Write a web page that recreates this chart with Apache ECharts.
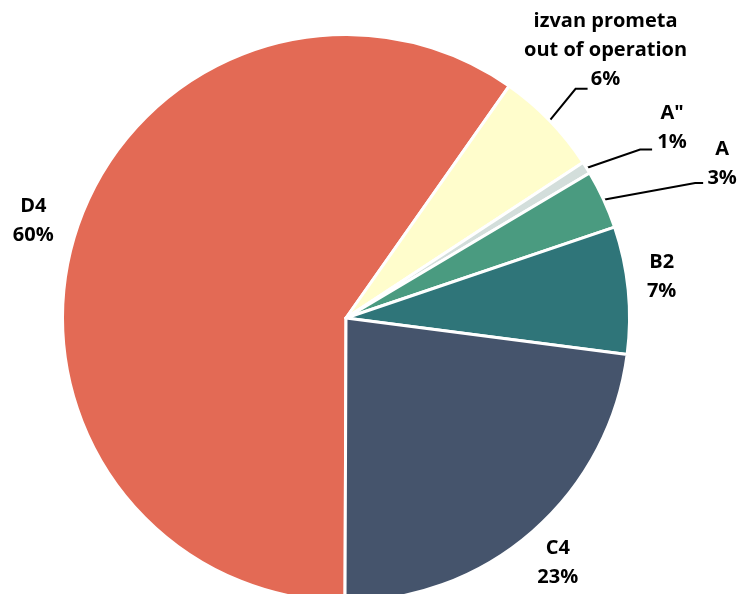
<!DOCTYPE html>
<html>
<head>
<meta charset="utf-8">
<script src="https://cdn.jsdelivr.net/npm/echarts@6/dist/echarts.min.js"></script>
<style>
html,body{margin:0;padding:0;background:#ffffff;}
#chart{width:740px;height:594px;}
</style>
</head>
<body>
<div id="chart"></div>
<script>
// ---- data ----
const categories = ['D4', 'izvan prometa\nout of operation', 'A"', 'A', 'B2', 'C4'];
const values = [59.7, 6.0, 0.7, 3.35, 7.25, 23.0];
const colors = ['#E36A55', '#FFFDCC', '#D3DEDB', '#4A9B80', '#2F7579', '#45546C'];

// ---- label styling (offsets in px) ----
const showLine = [false, true, true, true, false, false];
const lineElbow = [null, [27, -33], [55, -19], [93, -17], null, null];
const lineTail = [0, 12, 12, 8, 0, 0];
const labelShift = [[-44, -12], [18, -39], [20, -22], [19, -19], [35, -13], [26, 33]];

const CX = 346, CY = 318, R = 282, START = 269.8;

const total = values.reduce((a, b) => a + b, 0);
let acc = 0;
const mids = values.map(v => {
  const a0 = START - acc / total * 360;
  acc += v;
  const a1 = START - acc / total * 360;
  return (a0 + a1) / 2 * Math.PI / 180;
});

const chart = echarts.init(document.getElementById('chart'), null, {renderer: 'canvas'});
chart.setOption({
  backgroundColor: '#ffffff',
  animation: false,
  series: [{
    type: 'pie',
    center: [CX, CY],
    radius: R + 1.5,
    startAngle: START,
    clockwise: true,
    avoidLabelOverlap: false,
    percentPrecision: 0,
    silent: true,
    itemStyle: {borderColor: '#ffffff', borderWidth: 3},
    label: {
      show: true,
      position: 'outside',
      formatter: '{b}\n{d}%',
      color: '#000000',
      fontFamily: '"Open Sans", "Noto Sans", sans-serif',
      fontWeight: 'bold',
      fontSize: 20,
      lineHeight: 29,
      overflow: 'none'
    },
    labelLine: {show: true, lineStyle: {color: '#000000', width: 2}},
    labelLayout: function (p) {
      const i = p.dataIndex;
      const a = mids[i];
      const p1 = [CX + R * Math.cos(a), CY - R * Math.sin(a)];
      const out = {align: 'center', verticalAlign: 'middle'};
      if (showLine[i]) {
        const p2 = [p1[0] + lineElbow[i][0], p1[1] + lineElbow[i][1]];
        const p3 = [p2[0] + lineTail[i], p2[1]];
        out.labelLinePoints = [p1, p2, p3];
        out.x = p3[0] + labelShift[i][0];
        out.y = p3[1] + labelShift[i][1];
      } else {
        out.x = p1[0] + labelShift[i][0];
        out.y = p1[1] + labelShift[i][1];
      }
      return out;
    },
    data: categories.map((c, i) => ({
      name: c,
      value: values[i],
      itemStyle: {color: colors[i]},
      labelLine: {show: showLine[i]}
    }))
  }]
});
</script>
</body>
</html>
